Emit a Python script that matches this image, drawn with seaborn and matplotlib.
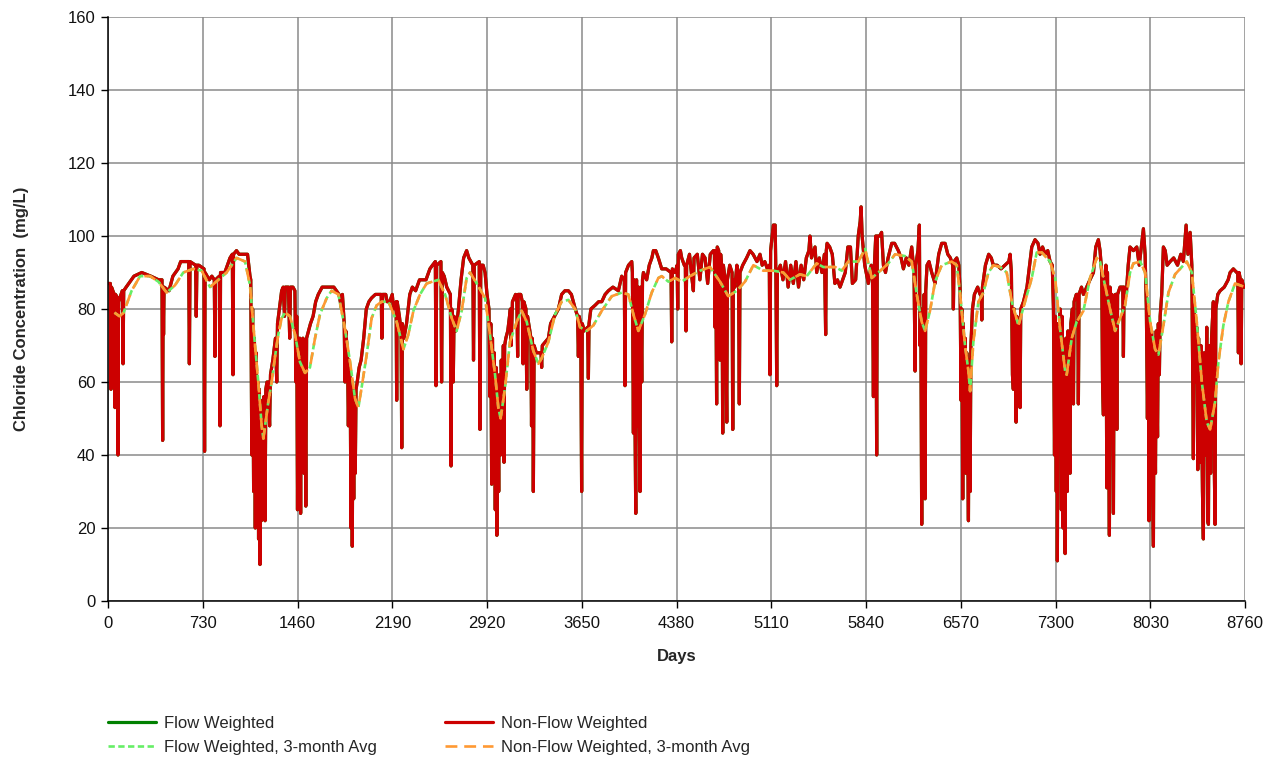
import numpy as np
import pandas as pd
import matplotlib
matplotlib.use("Agg")
import matplotlib.pyplot as plt
import seaborn as sns

# ---------------- data ----------------
# Non-flow-weighted daily concentration (day, mg/L), in four stretches
nfw_1 = [(0,87),(18,87),(23,58),(27,86),(48,84),(54,53),(58,84),(73,83),(77,40),(81,82),(100,84),(110,85),
         (116,65),(121,85),(140,86),(200,89),(260,90),(330,89),(390,88),(416,88),(421,44),(425,86),(428,73),
         (432,86),(470,85),(500,89),(540,91),(560,93),(622,93),(627,65),(632,93),(675,92),(680,78),(685,92),
         (700,92),(740,91),(744,41),(748,90),(780,88),(800,89),(819,88),(824,67),(828,88),(858,89),(863,48),
         (867,90),(900,90),(940,94),(958,95),(963,62),(967,95),(990,96),(1010,95),(1040,95),(1060,95),
         (1075,95),(1094,89),(1100,88),(1108,40),(1114,80),(1122,30),(1128,72),(1135,20),(1141,68),(1148,26),
         (1154,60),(1160,17),(1166,58),(1171,10),(1176,55),(1182,22),(1188,50),(1195,25),(1201,56),(1210,22),
         (1216,58),(1225,60),(1235,60),(1245,48),(1252,62),(1270,66),(1290,72),(1300,60),(1306,76),(1320,80),
         (1338,85),(1350,86),(1360,78),(1366,86),(1390,86),(1400,72),(1406,86),(1425,86),(1440,85),(1448,60),
         (1454,78),(1460,25),(1466,72),(1472,40),(1478,72),(1484,24),(1490,70),(1496,50),(1502,72),(1510,35),
         (1516,70),(1524,26),(1530,72),(1545,74),(1560,76),(1580,78),(1600,82),(1620,84),(1650,86),(1680,86),
         (1700,86),(1720,86),(1740,86),(1760,85),(1780,84),(1800,80),(1806,84),(1820,76),(1826,60),(1832,74),
         (1845,68),(1852,48),(1858,66),(1866,62),(1872,20),(1878,60),(1882,15),(1887,58),(1893,28),(1899,56),
         (1905,35),(1911,58),(1920,60),(1935,64),(1950,66),(1970,72),(1990,80),(2010,82),(2030,83),(2060,84),
         (2080,84),(2105,84),(2110,72),(2116,84),(2140,84),(2150,82)]
nfw_2 = [(2170,82),(2190,84),(2200,80),(2220,82),(2224,55),(2228,82),(2245,78),(2258,74),(2263,42),(2268,76),
         (2280,72),(2300,76),(2325,84),(2345,86),(2370,85),(2400,88),(2420,88),(2450,88),(2480,91),(2500,92),
         (2522,93),(2527,59),(2532,92),(2565,93),(2570,60),(2576,90),(2590,89),(2610,86),(2638,84),(2643,37),
         (2648,80),(2655,78),(2660,60),(2666,78),(2680,74),(2700,80),(2720,88),(2740,94),(2763,96),(2780,94),
         (2811,92),(2816,66),(2822,92),(2860,93),(2866,47),(2872,92),(2890,92),(2905,90),(2920,84),(2935,80),
         (2943,56),(2949,76),(2956,32),(2962,72),(2970,45),(2976,68),(2984,25),(2990,64),(2996,18),(3002,60),
         (3010,30),(3016,62),(3024,40),(3030,66),(3040,50),(3046,70),(3051,38),(3056,70),(3065,72),(3080,74),
         (3100,80),(3106,70),(3116,82),(3140,84),(3150,82),(3156,67),(3160,84),(3180,84),(3192,82),(3198,65),
         (3204,82),(3220,80),(3226,58),(3232,78),(3250,74),(3258,72),(3263,48),(3268,72),(3272,70),(3277,30),
         (3283,70),(3300,68)]
nfw_3 = [(3320,68),(3336,68),(3341,64),(3346,70),(3370,71),(3393,72),(3410,76),(3440,78),(3470,80),(3495,84),
         (3520,85),(3547,85),(3570,84),(3600,80),(3618,78),(3624,67),(3630,78),(3642,76),(3649,30),(3654,76),
         (3670,74),(3695,75),(3701,61),(3706,76),(3720,80),(3752,81),(3780,82),(3804,82),(3830,84),(3855,85),
         (3890,86),(3932,85),(3958,89),(3978,88),(3983,59),(3988,90),(4010,92),(4035,93),(4040,90),(4048,46),
         (4053,88),(4060,50),(4066,24),(4072,88),(4080,48),(4086,86),(4092,55),(4099,30),(4104,86),(4112,60),
         (4118,88),(4125,90),(4150,88),(4170,92),(4190,94),(4202,96),(4220,96),(4240,94),(4266,91),(4300,91),
         (4338,90),(4343,71),(4348,91),(4369,90),(4385,92),(4389,80),(4394,95),(4410,96),(4420,94),
         (4440,92),(4448,92),(4453,74),(4458,92),(4480,95),(4500,88),(4510,85),(4515,94),(4540,95),(4560,88),
         (4580,95),(4600,94),(4620,87),(4640,95),(4664,96),(4672,96),(4677,75),(4682,96),(4689,54),(4694,97),
         (4705,96),(4715,66),(4720,95),(4730,90),(4736,46),(4741,92),(4755,88),(4767,49),(4772,88),(4790,92),
         (4808,90),(4813,47),(4818,88),(4830,86),(4845,92),(4858,88),(4864,54),(4869,90),(4890,92),(4920,94),
         (4946,96),(4970,95),(5000,93),(5023,95),(5040,92),(5060,93),(5080,91),(5095,92),(5100,62),(5105,96),
         (5126,103),(5140,103),(5146,88),(5152,59),(5157,90),(5180,92),(5200,88),(5220,93),(5240,86),(5260,92),
         (5280,87),(5300,93),(5320,86),(5340,92),(5360,88),(5380,94),(5400,96),(5408,100),(5420,94),(5447,97),
         (5460,90),(5480,94),(5500,90),(5520,95),(5529,73),(5534,96),(5540,98),
         (5560,97),(5580,95),(5600,87),(5620,88),(5640,86),(5660,88),(5680,90),(5700,97),(5720,97),(5735,87),
         (5760,88),(5780,100),(5795,104),(5802,108),(5810,100),(5830,92),(5858,87),(5880,92),(5890,88),
         (5897,56),(5902,90),(5915,100),(5922,40),(5927,100),(5945,100),(5960,101),(5974,92),(5990,90),
         (6010,94),(6038,98),(6060,98),(6089,96),(6110,94),(6128,91),(6150,94),(6170,92),(6192,97),(6210,90),
         (6218,63),(6223,92),(6240,96),(6251,103),(6256,70),(6262,80),(6269,21),(6274,78),(6282,40),(6288,84),
         (6295,28),(6300,85),(6310,92),(6325,93),(6346,90),(6372,87),(6400,95),(6423,98),(6449,98),(6470,95),
         (6490,94),(6508,92),(6513,80),(6518,93),(6539,94),(6555,92),(6565,85),(6572,55),(6578,80),(6585,28),
         (6590,76),(6598,45),(6604,72),(6610,35),(6616,68),(6622,50),(6629,22),(6634,66),(6642,30),(6648,70),
         (6660,80)]
nfw_4 = [(6675,84),(6700,86),(6719,84),(6727,84),(6732,77),(6737,86),(6760,92),(6785,95),(6805,94),(6821,92),
         (6850,92),(6880,91),(6910,92),(6940,93),(6950,95),(6960,90),(6968,62),(6975,58),(6982,80),(6990,70),
         (6996,49),(7002,78),(7014,72),(7020,60),(7027,53),(7032,80),(7053,82),(7080,86),(7100,92),(7117,97),
         (7142,99),(7165,98),(7181,95),(7200,97),(7220,95),(7240,96),(7258,93),(7275,92),(7284,80),(7292,40),
         (7298,78),(7306,30),(7311,76),(7314,11),(7320,72),(7330,55),(7336,80),(7345,25),(7350,78),(7358,20),
         (7364,70),(7374,13),(7380,72),(7390,30),(7396,74),(7405,45),(7412,35),(7418,76),(7430,80),(7438,54),
         (7443,82),(7460,84),(7471,84),(7476,54),(7481,84),(7500,86),(7515,84),(7540,86),(7565,88),(7592,90),
         (7610,97),(7630,99),(7643,96),(7656,90),(7662,60),(7669,51),(7674,88),(7682,70),(7688,92),(7695,31),
         (7700,90),(7708,60),(7715,18),(7720,86),(7728,45),(7734,84),(7746,24),(7752,82),
         (7760,84),(7767,84),(7772,47),(7778,84),(7797,86),(7818,86),(7823,67),(7828,86),(7845,84),(7860,92),
         (7874,97),(7900,96),(7926,97),(7945,92),(7964,98),(7977,102),(7990,95),(8000,80),(8008,50),(8014,78),
         (8020,22),(8026,76),(8034,40),(8040,74),(8048,30),(8054,15),(8060,72),(8070,35),(8076,74),(8086,45),
         (8092,76),(8100,62),(8106,78),(8118,84),(8131,97),(8145,96),(8160,92),(8183,93),(8210,94),(8240,92),
         (8265,95),(8285,93),(8306,103),(8320,95),(8337,101),(8350,92),(8362,39),(8368,82),(8378,60),(8388,75),
         (8396,36),(8402,72),(8414,38),(8420,70),(8432,30),(8439,17),(8445,68),(8455,40),(8465,75),(8472,22),
         (8478,21),(8484,70),(8495,35),(8502,72),(8516,82),(8522,40),(8529,21),(8535,80),(8550,84),(8568,85),
         (8600,86),(8630,88),(8645,90),(8670,91),(8696,90),(8704,90),(8709,68),(8714,90),(8725,88),(8730,65),
         (8735,88),(8750,86),(8760,86)]

# 3-month moving average (both weightings overlap in the reference)
avg_days = [50,90,120,182,247,324,388,452,516,580,657,722,786,850,914,991,1056,1094,1133,1158,1184,1197,
            1235,1261,1287,1312,1338,1364,1402,1441,1479,1518,1556,1595,1633,1685,1723,1775,1826,1865,1903,
            1929,1954,1993,2031,2070,2108,2160,2173,2224,2276,2314,2353,2404,2455,2545,2597,2648,2686,2725,
            2763,2789,2841,2905,2943,2982,3007,3025,3059,3097,3149,3187,3226,3277,3316,3341,3393,3444,3495,
            3547,3598,3637,3688,3739,3804,3881,3958,4009,4048,4086,4137,4189,4240,4266,4317,4369,4420,4484,
            4561,4638,4715,4779,4844,4908,4972,5049,5126,5203,5254,5331,5383,5460,5511,5602,5653,5704,5781,
            5833,5884,5935,6012,6064,6141,6192,6231,6269,6295,6333,6372,6423,6500,6539,6565,6603,6629,6642,
            6667,6706,6744,6783,6821,6873,6924,6963,7014,7065,7117,7155,7194,7258,7297,7335,7374,7386,7425,
            7463,7515,7566,7618,7643,7669,7720,7759,7797,7836,7874,7900,7952,7990,8029,8067,8093,8131,8170,
            8221,8273,8311,8350,8388,8427,8465,8491,8529,8555,8593,8632,8683,8722,8760]
avg_vals = [79,78,79,85,89,89,87.5,84.5,86.5,90,91,90.5,86,88,90,94,93,86.5,70,60,48,44.5,
            54.5,60,67,73,77.5,79,78,73,65.5,62.5,64,72,78.5,83,85,84,74.5,65.5,55.5,
            53,58.5,67.5,77.5,81,82,82,81,76.5,69,73,79.5,84,87,88,84,77.5,74,79.5,
            88.5,90,87,83,73,62,53,50,58.5,71,76.5,79.5,76.5,68.5,65,66.5,71,78.5,82,
            82.5,80,75,74,75.5,79.5,83.5,84.5,84,78.5,74,78.5,84.5,88.5,89,87.5,88.5,87.5,89,
            90.5,91.5,87.5,83.5,85,87.5,92,90.5,90.5,90,88,89.5,89,92.5,91.5,91.5,90.5,93,93,
            96.5,88.5,90,92.5,95,94.5,93,84,76.5,74,79.5,87.5,92,93,92,84,70,63,57.5,
            71,82,84.5,90,92,91.5,90,82,75.5,82,88.5,95.5,95.5,93,88.5,74.5,63,62,72,
            76.5,79.5,88.5,94,93,88.5,80,74,77.5,81,90,92.5,93,90,76.5,69,67.5,75.5,84.5,
            89.5,91.5,93,90,76.5,60,49,47,54.5,65.5,75.5,82,87,86.5,86]

x_ticks = [0, 730, 1460, 2190, 2920, 3650, 4380, 5110, 5840, 6570, 7300, 8030, 8760]
y_ticks = [0, 20, 40, 60, 80, 100, 120, 140, 160]
labels = ["Flow Weighted", "Non-Flow Weighted",
          "Flow Weighted, 3-month Avg", "Non-Flow Weighted, 3-month Avg"]

# ---------------- build tables ----------------
nfw = pd.DataFrame(nfw_1 + nfw_2 + nfw_3 + nfw_4, columns=["day", "conc"])
avg = pd.DataFrame({"day": avg_days, "conc": avg_vals})

sns.set_theme(style="whitegrid")
plt.rcParams["font.family"] = ["Liberation Sans", "DejaVu Sans"]

fig = plt.figure(figsize=(12.75, 7.6), dpi=100)
ax = fig.add_axes([0.0847, 0.2092, 0.8918, 0.7684])

RED = "#cc0000"
DKGREEN = "#008000"
LTGREEN = "#66ee66"
ORANGE = "#ff9933"

sns.lineplot(data=nfw, x="day", y="conc", ax=ax, color=DKGREEN, lw=2.3,
             estimator=None, sort=False, label=labels[0])
sns.lineplot(data=nfw, x="day", y="conc", ax=ax, color=RED, lw=2.3,
             estimator=None, sort=False, label=labels[1])
sns.lineplot(data=avg, x="day", y="conc", ax=ax, color=LTGREEN, lw=1.9,
             estimator=None, sort=False, label=labels[2], dashes=False)
sns.lineplot(data=avg, x="day", y="conc", ax=ax, color=ORANGE, lw=1.9,
             estimator=None, sort=False, label=labels[3], dashes=False)
lines = ax.get_lines()
lines[2].set_dashes((2.4, 1.3))
lines[3].set_dashes((4.5, 2.6))

ax.set_xlim(0, 8760)
ax.set_ylim(0, 160)
ax.set_xticks(x_ticks)
ax.set_yticks(y_ticks)
ax.grid(True, color="#8a8a8a", lw=1.1)
ax.set_facecolor("white")
for s in ["top", "right"]:
    ax.spines[s].set_visible(False)
for s in ["left", "bottom"]:
    ax.spines[s].set_color("black")
    ax.spines[s].set_linewidth(1.1)
ax.tick_params(axis="both", which="major", direction="out", length=5, width=1,
               color="black", labelsize=12, labelcolor="#111111", left=True, bottom=True)
ax.tick_params(axis="x", pad=6)
ax.tick_params(axis="y", pad=4)
ax.set_xlabel("Days", fontsize=12, fontweight="bold", labelpad=13)
ax.set_ylabel("Chloride Concentration  (mg/L)", fontsize=12, fontweight="bold", labelpad=28)

handles, labs = ax.get_legend_handles_labels()
ax.get_legend().remove()
order = [0, 2, 1, 3]
fig.legend([handles[i] for i in order], [labs[i] for i in order], ncol=2,
           loc="upper left", bbox_to_anchor=(0.0847, 0.058), frameon=False,
           fontsize=12, handlelength=2.9, handletextpad=0.45, columnspacing=4.1,
           labelspacing=0.55, borderpad=0, borderaxespad=0)

fig.savefig("out.png", dpi=100, facecolor="white")
